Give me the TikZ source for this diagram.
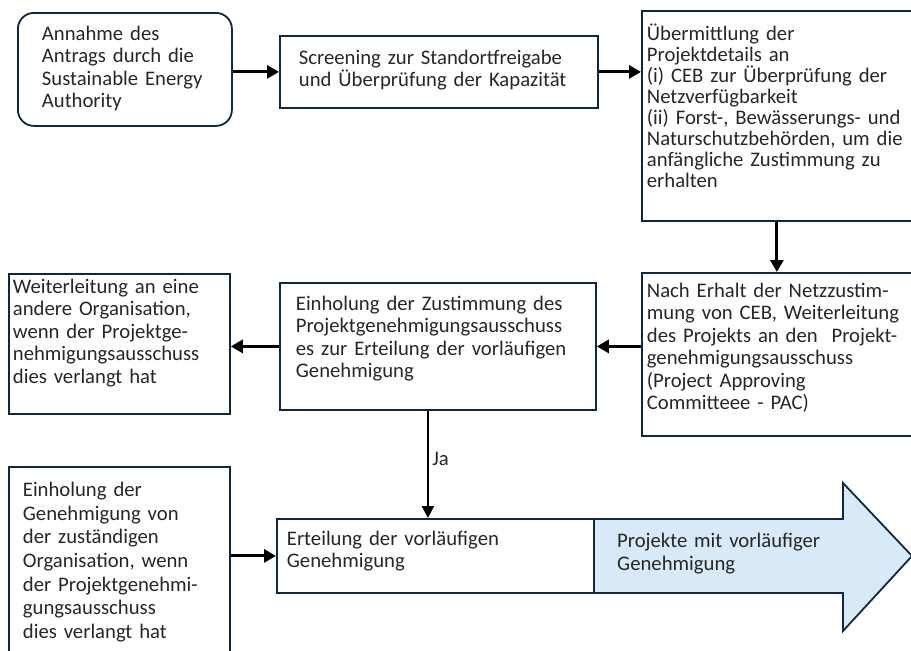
\documentclass[tikz,border=0pt]{standalone}
\usepackage{fontspec}
\setmainfont{Carlito}
\usepackage{xcolor}
\usepackage{tikz}
\usetikzlibrary{arrows.meta}
\definecolor{boxline}{RGB}{14,40,65}
\definecolor{boxtext}{RGB}{38,38,38}
\definecolor{outfill}{RGB}{218,233,247}

\begin{document}
\begin{tikzpicture}[x=1pt, y=-1pt,
  box/.style={draw=boxline, line width=1.8pt, anchor=north west, align=left,
              inner ysep=0pt, text=boxtext,
              font=\fontsize{20.7}{22.5}\selectfont},
  outtext/.style={anchor=north west, align=left, inner ysep=0pt, text=boxtext,
                  font=\fontsize{20.7}{22.5}\selectfont},
  bigarrow/.style={draw=boxline, line width=1.8pt, fill=outfill, line join=miter},
  flow/.style={-{Triangle[length=12pt, width=13pt]}, line width=3pt},
  yesflow/.style={-{Triangle[length=12pt, width=12pt]}, line width=2.2pt}
]
\useasboundingbox (0,0) rectangle (911,651);

% outcome arrow, drawn first so that the grant box lies on top of its tail
\path[bigarrow] (592,519) -- (843,519) -- (843,483) -- (912,556)
  -- (843,631) -- (843,593) -- (592,593) -- cycle;
\node[outtext, inner xsep=25pt, text width=230pt,
      text height=28.5pt, text depth=45.5pt] (result) at (592,519)
  {Projekte mit vorläufiger\\Genehmigung};

% first row
\node[box, rounded corners=16pt, inner xsep=24pt, text width=166pt,
      text height=27.5pt, text depth=85.5pt] (start) at (17,12)
  {Annahme des\\Antrags durch die\\Sustainable Energy\\Authority};
\node[box, inner xsep=19pt, text width=280pt,
      text height=28.5pt, text depth=43.5pt] (screen) at (279,35)
  {Screening zur Standortfreigabe\\und Überprüfung der Kapazität};
\node[box, inner xsep=5pt, text width=260pt, text height=29.5pt, text depth=180.5pt,
      font=\fontsize{20.7}{21}\selectfont] (transmit) at (641,10)
  {Übermittlung der\\Projektdetails an\\(i) CEB zur Überprüfung der\\Netzverfügbarkeit\\
   (ii) Forst-, Bewässerungs- und\\Naturschutzbehörden, um die\\anfängliche Zustimmung zu\\erhalten};

% second row
\node[box, inner xsep=5pt, text width=260pt,
      text height=24.5pt, text depth=138.5pt] (pac) at (641,272)
  {Nach Erhalt der Netzzustim-\\mung von CEB, Weiterleitung\\des Projekts an den~ Projekt-\\
   genehmigungsausschuss\\(Project Approving\\Committeee - PAC)};
\node[box, inner xsep=16pt, text width=284pt,
      text height=27.5pt, text depth=99.5pt] (consent) at (279,282)
  {Einholung der Zustimmung des\\Projektgenehmigungsausschuss\\es zur Erteilung der vorläufigen\\Genehmigung};
\node[box, inner xsep=4pt, text width=213pt,
      text height=19.5pt, text depth=120.5pt] (forward) at (8,273)
  {Weiterleitung an eine\\andere Organisation,\\wenn der Projektge-\\nehmigungsausschuss\\dies verlangt hat};

% third row
\node[box, inner xsep=14pt, text width=193pt, text height=29.5pt, text depth=164.5pt,
      font=\fontsize{20.7}{23.7}\selectfont] (obtain) at (8,466)
  {Einholung der\\Genehmigung von\\der zuständigen\\Organisation, wenn\\der Projektgenehmi-\\
   gungsausschuss\\dies verlangt hat};
\node[box, fill=white, inner xsep=10pt, text width=297pt,
      text height=26.5pt, text depth=47.5pt] (grant) at (276,518)
  {Erteilung der vorläufigen\\Genehmigung};

\draw[flow] (start.east |- screen.west) -- (screen.west);
\draw[flow] (screen.east) -- (screen.east -| transmit.west);
\draw[flow] (transmit.south) -- (pac.north);
\draw[flow] (pac.west |- consent.east) -- (consent.east);
\draw[flow] (consent.west) -- (consent.west -| forward.east);
\draw[yesflow] ([xshift=-10pt]consent.south) -- node[right, pos=0.45, text=boxtext,
  font=\fontsize{20.7}{22.5}\selectfont] {Ja} ([xshift=-10pt]consent.south |- grant.north);
\draw[flow] (obtain.east |- grant.west) -- (grant.west);
\end{tikzpicture}
\end{document}
